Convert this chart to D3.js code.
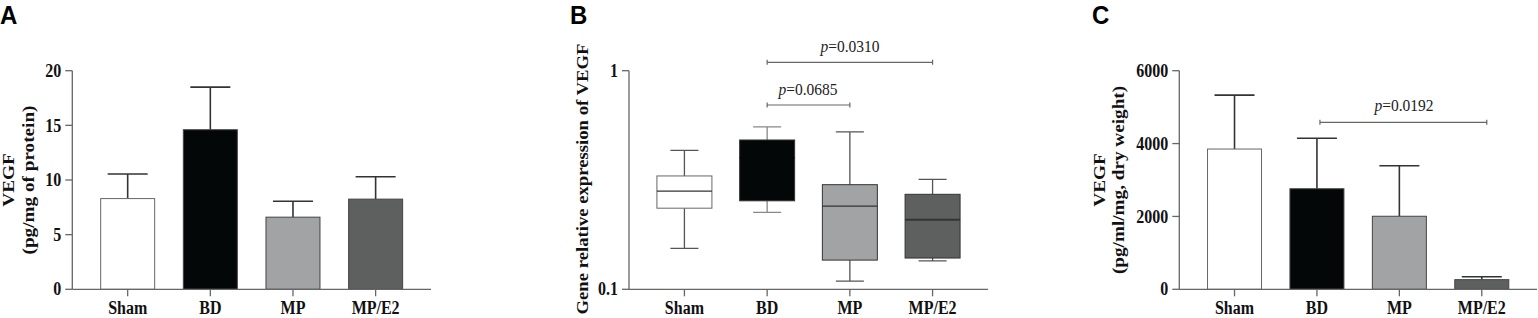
<!DOCTYPE html>
<html>
<head>
<meta charset="utf-8">
<script src="https://cdn.jsdelivr.net/npm/d3@7"></script>
<style>
  body { margin: 0; background: #fff; }
  svg text { font-family: "Liberation Serif", "Times New Roman", serif; }
  .tick-label, .cat-label { font-weight: bold; font-size: 16px; fill: #111; }
  .ytitle { font-weight: bold; font-size: 17px; fill: #111; }
  .panel-letter { font-family: "Liberation Sans", Arial, sans-serif !important; font-weight: bold; font-size: 24px; }
  .pval { font-size: 15.5px; fill: #222; }
</style>
</head>
<body>
<script>
const groups = ["Sham", "BD", "MP", "MP/E2"];
const fills = ["#ffffff", "#030708", "#a2a3a5", "#5e605f"];

// panel A: VEGF protein, mean and mean + SD
const vegfProtein = [8.3, 14.6, 6.6, 8.25];
const vegfProteinErr = [10.55, 18.5, 8.05, 10.3];
const ticksA = [0, 5, 10, 15, 20];

// panel B: gene expression box plots (min, q1, median, q3, max)
const geneMin = [0.154, 0.225, 0.109, 0.135];
const geneQ1 = [0.235, 0.254, 0.136, 0.139];
const geneMed = [0.281, 0.40, 0.24, 0.208];
const geneQ3 = [0.33, 0.482, 0.301, 0.272];
const geneMax = [0.432, 0.553, 0.525, 0.318];
const ticksB = [0.1, 1];

// panel C: VEGF per dry weight
const vegfDry = [3850, 2760, 2005, 265];
const vegfDryErr = [5330, 4145, 3390, 345];
const ticksC = [0, 2000, 4000, 6000];

const svg = d3.select("body").append("svg")
    .attr("width", 1538)
    .attr("height", 318);

const plotTop = 70.7, plotBottom = 289.3;
const stretch = 1.13; // the figure's lettering is a bit taller than wide

function xScale(left, right) {
  return d3.scalePoint().domain(groups).range([left, right]).padding(0.67);
}

function drawAxes(g, x, y, ticks, fmt) {
  const left = x.range()[0], right = x.range()[1];
  g.append("line")
      .attr("x1", left).attr("x2", left)
      .attr("y1", y(ticks[ticks.length - 1])).attr("y2", plotBottom)
      .attr("stroke", "#666").attr("stroke-width", 1.3);
  g.append("line")
      .attr("x1", left).attr("x2", right)
      .attr("y1", plotBottom).attr("y2", plotBottom)
      .attr("stroke", "#666").attr("stroke-width", 1.3);
  ticks.forEach(t => {
    g.append("line")
        .attr("x1", left - 7).attr("x2", left)
        .attr("y1", y(t)).attr("y2", y(t))
        .attr("stroke", "#666").attr("stroke-width", 1.3);
    g.append("text")
        .attr("class", "tick-label")
        .attr("transform", `translate(${left - 11},${y(t)}) scale(1,${stretch})`)
        .attr("dy", "0.34em")
        .attr("text-anchor", "end")
        .text(fmt(t));
  });
  groups.forEach(c => {
    g.append("line")
        .attr("x1", x(c)).attr("x2", x(c))
        .attr("y1", plotBottom).attr("y2", plotBottom + 7)
        .attr("stroke", "#666").attr("stroke-width", 1.3);
    g.append("text")
        .attr("class", "cat-label")
        .attr("transform", `translate(${x(c)},314) scale(1,${stretch})`)
        .attr("text-anchor", "middle")
        .text(c);
  });
}

function yTitle(g, lines, xs, cy, k) {
  lines.forEach((l, i) => {
    g.append("text")
        .attr("class", "ytitle")
        .attr("transform", `translate(${xs[i]},${cy}) rotate(-90) scale(${k},1)`)
        .attr("text-anchor", "middle")
        .text(l);
  });
}

function letter(g, t, x) {
  g.append("text").attr("class", "panel-letter")
      .attr("transform", `translate(${x},24) scale(1,1.05)`)
      .text(t);
}

function bracket(g, x1, x2, y, label, tx, ty) {
  g.append("path")
      .attr("d", `M${x1},${y - 2.5}V${y + 2.5}M${x1},${y}H${x2}M${x2},${y - 2.5}V${y + 2.5}`)
      .attr("fill", "none").attr("stroke", "#666").attr("stroke-width", 1.2);
  const t = g.append("text").attr("class", "pval")
      .attr("transform", `translate(${tx},${ty}) scale(1,${stretch})`)
      .attr("text-anchor", "middle");
  t.append("tspan").style("font-style", "italic").text("p");
  t.append("tspan").text("=" + label);
}

function barPanel(left, right, vals, errs, ticks, fmt) {
  const g = svg.append("g");
  const x = xScale(left, right);
  const y = d3.scaleLinear().domain([0, ticks[ticks.length - 1]]).range([plotBottom, plotTop]);
  // error bars first, bars drawn over them
  groups.forEach((c, i) => {
    g.append("line")
        .attr("x1", x(c)).attr("x2", x(c))
        .attr("y1", y(vals[i])).attr("y2", y(errs[i]))
        .attr("stroke", "#333").attr("stroke-width", 1.6);
    g.append("line")
        .attr("x1", x(c) - 20).attr("x2", x(c) + 20)
        .attr("y1", y(errs[i])).attr("y2", y(errs[i]))
        .attr("stroke", "#333").attr("stroke-width", 1.6);
  });
  g.selectAll("rect.bar")
      .data(vals)
    .join("rect")
      .attr("class", "bar")
      .attr("x", (d, i) => x(groups[i]) - 27)
      .attr("width", 54)
      .attr("y", d => y(d))
      .attr("height", d => plotBottom - y(d))
      .attr("fill", (d, i) => fills[i])
      .attr("stroke", (d, i) => i == 0 ? "#666" : "#444")
      .attr("stroke-width", 1);
  drawAxes(g, x, y, ticks, fmt);
  return {g, x, y};
}

// ---- panel A
const A = barPanel(72.3, 431, vegfProtein, vegfProteinErr, ticksA, d3.format("d"));
letter(A.g, "A", 0);
yTitle(A.g, ["VEGF", "(pg/mg of protein)"], [14, 34], 180, stretch);

// ---- panel B
(function() {
  const g = svg.append("g");
  const x = xScale(629, 988);
  const y = d3.scaleLog().domain([0.1, 1]).range([plotBottom, plotTop]);
  groups.forEach((c, i) => {
    const cx = x(c);
    g.append("path")
        .attr("d", `M${cx},${y(geneMax[i])}V${y(geneQ3[i])}M${cx - 14},${y(geneMax[i])}H${cx + 14}` +
                   `M${cx},${y(geneMin[i])}V${y(geneQ1[i])}M${cx - 14},${y(geneMin[i])}H${cx + 14}`)
        .attr("fill", "none").attr("stroke", i == 1 ? "#888" : "#555").attr("stroke-width", 1.3);
    g.append("rect")
        .attr("x", cx - 27.5).attr("width", 55)
        .attr("y", y(geneQ3[i])).attr("height", y(geneQ1[i]) - y(geneQ3[i]))
        .attr("fill", fills[i])
        .attr("stroke", i == 0 ? "#666" : "#333").attr("stroke-width", 1);
    g.append("line")
        .attr("x1", cx - 27.5).attr("x2", cx + 27.5)
        .attr("y1", y(geneMed[i])).attr("y2", y(geneMed[i]))
        .attr("stroke", i == 1 ? "#030708" : "#333").attr("stroke-width", i == 3 ? 2 : 1.3);
  });
  drawAxes(g, x, y, ticksB, d3.format("~g"));
  letter(g, "B", 570);
  yTitle(g, ["Gene relative expression of VEGF"], [588], 179, 1.1);
  bracket(g, x("BD"), x("MP/E2"), 62.3, "0.0310", 850, 52);
  bracket(g, x("BD"), x("MP"), 105, "0.0685", 808, 95);
})();

// ---- panel C
const C = barPanel(1179.3, 1537, vegfDry, vegfDryErr, ticksC, d3.format("d"));
letter(C.g, "C", 1092);
yTitle(C.g, ["VEGF", "(pg/ml/mg, dry weight)"], [1105, 1124], 180, stretch);
bracket(C.g, C.x("BD") + 3, C.x("MP/E2") + 5, 122.3, "0.0192", 1404, 111);
</script>
</body>
</html>
